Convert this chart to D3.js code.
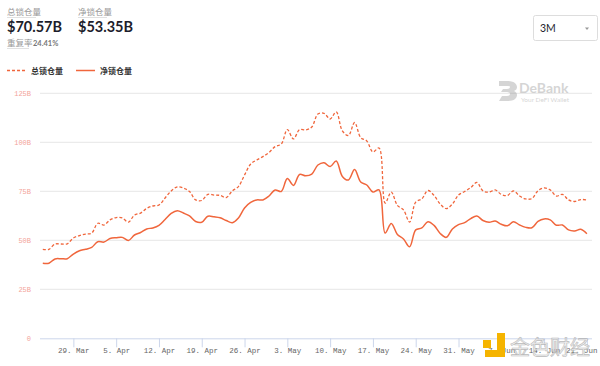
<!DOCTYPE html>
<html><head><meta charset="utf-8">
<script src="https://cdn.jsdelivr.net/npm/d3@7"></script>
<style>
html,body{margin:0;padding:0;background:#fff;}
svg{display:block;}
</style></head>
<body>
<svg id="c" width="600" height="366"></svg>
<script>
const startDate = "2021-03-24";
const totalTVL = [45.4,45.4,48.1,48.1,48.2,51.2,52.4,53.2,53.7,58.7,57.8,60.4,61.6,61.4,59.3,62.9,63.9,66.3,67.5,68.0,71.6,75.2,77.3,
76.7,74.9,70.6,70.3,73.4,73.1,72.9,71.8,75.2,77.4,83.3,88.9,91.0,92.7,94.8,97.8,99.1,106.5,101.7,106.5,106.3,107.8,
114.4,114.8,111.9,115.5,105.8,103.5,110.1,102.4,100.7,95.1,97.1,69.0,74.6,67.8,65.5,59.3,69.5,71.1,75.4,72.9,68.5,66.2,
68.5,73.1,74.9,76.9,79.5,75.2,74.6,75.7,73.4,72.9,75.2,72.6,71.1,71.3,75.3,76.7,75.7,72.6,73.4,70.6,69.8,70.8,70.57];
const netTVL = [38.3,38.3,40.5,40.6,40.6,43.0,44.7,45.4,46.4,49.3,49.1,50.9,51.3,51.5,49.9,52.7,54.0,55.8,56.3,57.6,60.6,63.7,65.1,
63.9,62.4,59.6,59.2,62.3,62.0,61.5,60.1,59.0,61.4,66.5,69.3,70.6,70.6,72.6,75.7,74.9,81.5,78.0,83.6,82.9,83.8,
88.4,89.6,87.6,90.5,82.6,80.8,86.1,79.7,78.2,74.6,75.7,53.7,58.6,53.0,50.7,46.7,55.3,56.3,59.5,57.6,53.5,51.5,
55.8,58.0,59.0,61.1,62.4,60.1,59.2,59.8,58.2,57.4,59.5,57.8,56.6,56.4,59.6,60.9,60.4,57.7,57.8,55.3,54.8,55.6,53.35];
const yTicks = [0,25,50,75,100,125];
const xTickDates = ["2021-03-29","2021-04-05","2021-04-12","2021-04-19","2021-04-26","2021-05-03","2021-05-10","2021-05-17","2021-05-24","2021-05-31","2021-06-07","2021-06-14","2021-06-21"];
const seriesNames = ["总锁仓量","净锁仓量"];
const headerValues = ["$70.57B","$53.35B"];
const dupRate = "24.41%";

const svg = d3.select("#c");
const color = "#f0663c";
const t0 = new Date(startDate+"T00:00:00Z");
const dates = totalTVL.map((_,i)=> new Date(t0.getTime()+i*86400000));

const x = d3.scaleUtc()
  .domain([new Date("2021-03-23T13:00:00Z"), new Date("2021-06-22T00:00:00Z")])
  .range([40, 593]);
const y = d3.scaleLinear().domain([0,125]).range([338.3, 93.3]);

// gridlines
svg.append("g").selectAll("line").data(yTicks.filter(d=>d>0)).join("line")
  .attr("x1",40).attr("x2",592).attr("y1",d=>y(d)).attr("y2",d=>y(d))
  .attr("stroke","#e6e6e6").attr("stroke-width",1);

// y labels
svg.append("g").selectAll("text").data(yTicks).join("text")
  .attr("x",31).attr("y",d=>y(d)+2.5).attr("text-anchor","end")
  .attr("font-family","Liberation Mono, DejaVu Sans Mono, monospace").attr("font-size",7)
  .attr("fill","#f3a49a").text(d=> d===0 ? "0" : d+"B");

// x axis
const xAxis = d3.axisBottom(x).tickValues(xTickDates.map(s=>new Date(s+"T00:00:00Z")))
  .tickSize(9).tickFormat(d3.utcFormat("%-d. %b"));
const gx = svg.append("g").attr("transform","translate(0,338.3)").call(xAxis);
gx.select(".domain").attr("stroke","#ccd6eb").attr("d","M40,0.5H592");
gx.selectAll(".tick line").attr("stroke","#ccd6eb");
gx.selectAll(".tick text").attr("font-family","Liberation Mono, DejaVu Sans Mono, monospace")
  .attr("font-size",7.5).attr("fill","#666").attr("dy","0.4em");
// justify last label so it stays inside the chart
const lastTick = gx.selectAll(".tick").filter((d,i,n)=> i===n.length-1);
const lastX = x(new Date(xTickDates[xTickDates.length-1]+"T00:00:00Z"));
lastTick.select("text").attr("text-anchor","end").attr("x", 597 - lastX);

// lines
const lineGen = d3.line().x((d,i)=>x(dates[i])).y(d=>y(d)).curve(d3.curveCatmullRom.alpha(0.5));
svg.append("path").datum(totalTVL).attr("d",lineGen).attr("fill","none")
  .attr("stroke",color).attr("stroke-width",1.3).attr("stroke-dasharray","3,2");
svg.append("path").datum(netTVL).attr("d",lineGen).attr("fill","none")
  .attr("stroke",color).attr("stroke-width",1.5);

// header
const cjk = "'Noto Sans CJK SC', sans-serif";
const hdr = svg.append("g");
[[7,0],[78,1]].forEach(([hx,i])=>{
  hdr.append("text").attr("x",hx).attr("y",15).attr("font-family",cjk).attr("font-size",8.5)
    .attr("fill","#999").text(seriesNames[i]);
  hdr.append("line").attr("x1",hx).attr("x2",hx+29).attr("y1",17.5).attr("y2",17.5)
    .attr("stroke","#ccc").attr("stroke-width",0.6);
  hdr.append("text").attr("x",hx).attr("y",32).attr("font-family","Lato, sans-serif").attr("font-size",14.5)
    .attr("font-weight",700).attr("fill","#1d1d2b").text(headerValues[i]);
});
hdr.append("text").attr("x",7).attr("y",46).attr("font-family",cjk).attr("font-size",8.5)
  .attr("fill","#999").text("重复率");
hdr.append("line").attr("x1",7).attr("x2",29).attr("y1",48.5).attr("y2",48.5).attr("stroke","#ccc").attr("stroke-width",0.6);
hdr.append("text").attr("x",33).attr("y",46).attr("font-family","Lato, sans-serif").attr("font-size",7.5)
  .attr("font-weight",700).attr("fill","#777").text(dupRate);

// dropdown
svg.append("rect").attr("x",533.5).attr("y",15.5).attr("width",64).attr("height",25).attr("rx",2)
  .attr("fill","#fff").attr("stroke","#ddd");
svg.append("text").attr("x",540).attr("y",32).attr("font-family","Lato, sans-serif").attr("font-size",10.5)
  .attr("fill","#1d1d2b").text("3M");
svg.append("path").attr("d","M585,27.5h4l-2,2.5z").attr("fill","#999");

// legend
const lg = svg.append("g");
lg.append("line").attr("x1",7).attr("x2",26).attr("y1",70.5).attr("y2",70.5)
  .attr("stroke",color).attr("stroke-width",1.3).attr("stroke-dasharray","3,2");
lg.append("text").attr("x",31).attr("y",73.5).attr("font-family",cjk).attr("font-size",8)
  .attr("font-weight",700).attr("fill","#333").text(seriesNames[0]);
lg.append("line").attr("x1",76).attr("x2",95).attr("y1",70.5).attr("y2",70.5)
  .attr("stroke",color).attr("stroke-width",1.5);
lg.append("text").attr("x",100).attr("y",73.5).attr("font-family",cjk).attr("font-size",8)
  .attr("font-weight",700).attr("fill","#333").text(seriesNames[1]);

// DeBank watermark
const wm = svg.append("g").attr("opacity",0.35);
wm.append("path").attr("d","M499,81h9c7,0,9,4,9,6c0,2-1,3-3,4c2,1,3,2,3,4c0,3-3,6-9,6h-9l3-5h5c2,0,3-1,3-2c0-1-1-2-3-2h-6l2-3h4c2,0,3-1,3-2c0-1-1-1-3-1h-8z")
  .attr("fill","#888");
wm.append("text").attr("x",519).attr("y",93).attr("font-family","Lato, sans-serif").attr("font-size",14)
  .attr("font-weight",700).attr("fill","#888").text("DeBank");
wm.append("text").attr("x",521).attr("y",102).attr("font-family","Lato, sans-serif").attr("font-size",6.5)
  .attr("fill","#888").text("Your DeFi Wallet");

// 金色财经 watermark
const jw = svg.append("g");
jw.append("rect").attr("x",483).attr("y",340).attr("width",8).attr("height",8).attr("fill","#f5b400");
jw.append("path").attr("d","M497,333h8v24h-20v-7h12z").attr("fill","#f5b400");
jw.append("text").attr("x",510).attr("y",355).attr("font-family",cjk).attr("font-size",20)
  .attr("fill","#eee").attr("stroke","#aaa").attr("stroke-width",0.6).attr("opacity",0.8).text("金色财经");
</script>
</body></html>
